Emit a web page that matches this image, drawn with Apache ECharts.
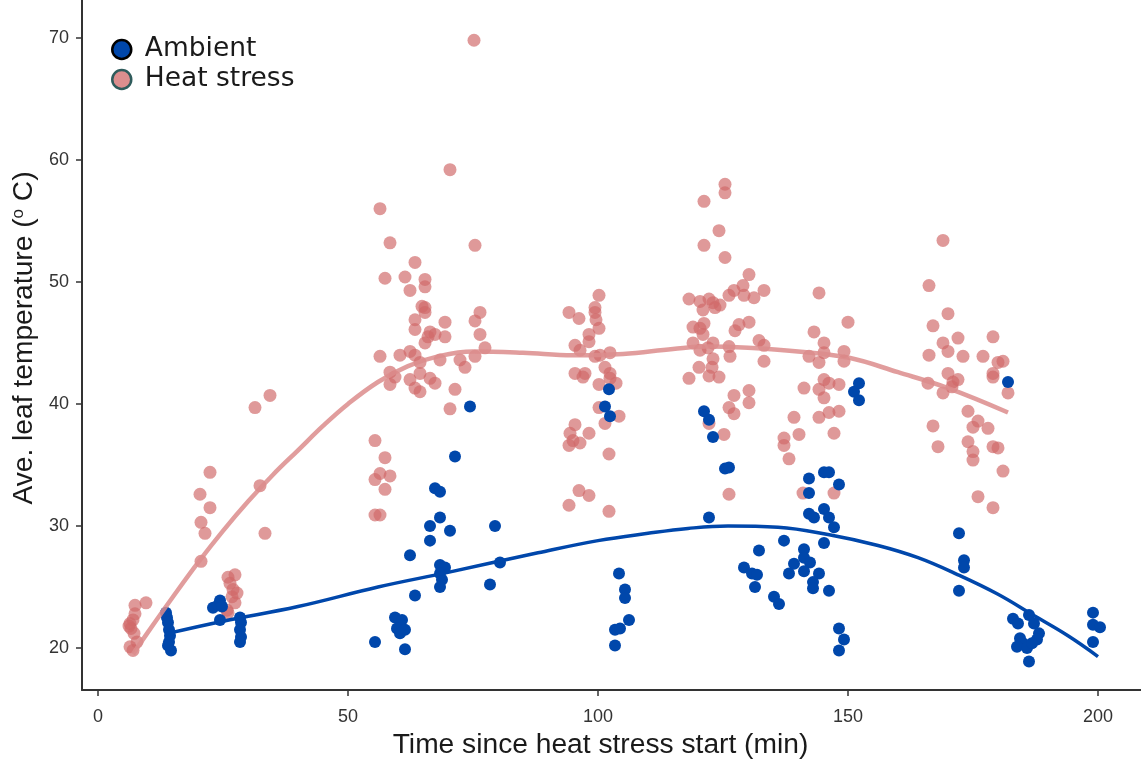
<!DOCTYPE html>
<html>
<head>
<meta charset="utf-8">
<script src="https://cdn.jsdelivr.net/npm/echarts@6/dist/echarts.min.js"></script>
<style>html,body{margin:0;padding:0;background:#fff}#c{width:1141px;height:760px}</style>
</head>
<body>
<div id="c"></div>
<script>
const xTicks = [0, 50, 100, 150, 200];
const yTicks = [20, 30, 40, 50, 60, 70];

const heatPoints = [
[6.4,22.0],[6.6,21.6],[7.4,23.5],[9.6,23.7],[7.0,22.3],[7.2,21.2],[7.8,20.5],[6.4,20.1],[7.0,19.8],[6.2,21.8],[7.4,22.8],
[22.4,34.4],[20.4,32.6],[22.4,31.5],[20.6,30.3],[21.4,29.4],[20.6,27.1],[31.4,39.7],[34.4,40.7],[32.4,33.3],[33.4,29.4],
[26,25.8],[27.4,26.0],[26.4,25.3],[27,24.8],[27.8,24.5],[26.8,24.2],[27.4,23.7],[25.8,23.1],[26,22.9],
[55.4,37.0],[57.4,35.6],[56.4,34.3],[58.4,34.1],[55.4,33.8],[57.4,33.0],[55.4,30.9],[56.4,30.9],
[56.4,56.0],[58.4,53.2],[75.4,53.0],[63.4,51.6],[57.4,50.3],[61.4,50.4],[65.4,50.2],[65.4,49.6],[62.4,49.3],[64.8,48.0],[65.4,47.9],[65.4,47.5],[76.4,47.5],[75.4,46.8],[63.4,46.9],[69.4,46.7],[63.4,46.1],[66.4,45.9],[67.4,45.7],[66,45.5],[69.4,45.5],[65.4,45.0],[76.4,45.7],[77.4,44.6],[56.4,43.9],[60.4,44.0],[62.4,44.3],[63.4,44.0],[64.4,43.4],[68.4,43.6],[72.4,43.6],[75.4,43.9],[73.4,43.0],[58.4,42.6],[59.4,42.2],[58.4,41.6],[62.4,42.0],[64.4,42.5],[66.4,42.1],[67.4,41.7],[63.4,41.3],[64.4,41.0],[71.4,41.2],[70.4,39.6],[70.4,59.2],[75.2,69.8],
[100.2,48.9],[99.4,47.9],[94.2,47.5],[96.2,47.0],[99.4,47.5],[99.6,46.9],[100.2,46.2],[98.2,45.7],[98.2,45.1],[95.4,44.8],[96.4,44.4],[99.4,43.9],[100.4,44.0],[102.4,44.2],[101.4,43.0],[102.4,42.5],[95.4,42.5],[97.4,42.5],[97,42.2],[102.4,42.1],[100.2,41.6],[103.6,41.7],[100.2,39.7],[101.4,38.4],[104.2,39.0],[95.4,38.3],[94.4,37.6],[95,37.0],[96.4,36.8],[94.2,36.6],[98.2,37.6],[102.2,35.9],[96.2,32.9],[98.2,32.5],[94.2,31.7],[102.2,31.2],
[125.4,58.0],[125.4,57.3],[121.2,56.6],[124.2,54.2],[121.2,53.0],[125.4,52.0],[130.2,50.6],[129,49.7],[127.2,49.3],[133.2,49.3],[126.2,48.9],[129.2,48.9],[131.2,48.7],[118.2,48.6],[120.4,48.4],[122.2,48.6],[123,48.3],[124.4,48.1],[121,47.7],[123.4,47.9],[130.2,46.7],[128.2,46.5],[127.4,46.0],[119,46.3],[120.4,46.2],[121.2,46.6],[121,45.7],[132.2,45.2],[133.2,44.8],[119,45.0],[123,45.0],[120.4,44.4],[122,44.6],[126.2,44.7],[126.4,43.9],[133.2,43.5],[123,43.7],[122.8,43.0],[120.2,43.0],[122.2,42.3],[124.2,42.2],[118.2,42.1],[127.2,40.7],[130.2,41.1],[130.2,40.1],[126.2,39.7],[127.2,39.2],[122.2,38.4],[125.2,37.5],[126.2,32.6],
[144.2,49.1],[150,46.7],[143.2,45.9],[145.2,45.0],[145.2,44.2],[142.2,43.9],[144.2,43.4],[149.2,44.3],[149.2,43.5],[145.2,42.0],[146.2,41.7],[148.2,41.6],[141.2,41.3],[144.2,41.2],[145.2,40.5],[144.2,38.9],[146.2,39.3],[148.2,39.4],[139.2,38.9],[140.2,37.5],[147.2,37.6],[137.2,37.2],[137.2,36.6],[138.2,35.5],[141,32.7],[147.2,32.7],
[169.0,53.4],[166.2,49.7],[170,47.4],[167,46.4],[172,45.4],[179,45.5],[169,45.0],[170,44.3],[166.2,44.0],[173,43.9],[177,43.9],[180,43.4],[181,43.5],[179,42.5],[179,42.2],[170,42.5],[171,41.8],[172,42.0],[166,41.7],[170.8,41.4],[169,40.9],[182,40.9],[174,39.4],[176,38.6],[175,38.1],[178,38.0],[167,38.2],[168,36.5],[174,36.9],[175,36.1],[175,35.4],[179,36.5],[180,36.4],[181,34.5],[176,32.4],[179,31.5]
];

const ambientPoints = [
[13.6,22.9],[13.8,22.5],[14.0,22.1],[14.4,21.0],[14.2,20.5],[14.6,19.8],[14.0,20.2],[14.2,21.5],
[23,23.3],[24,23.5],[24.4,23.9],[24.8,23.4],[24.4,22.3],
[28.4,22.5],[28.6,22.1],[28.4,21.5],[28.6,20.9],[28.4,20.5],
[74.4,39.8],[71.4,35.7],[67.4,33.1],[68.4,32.8],[68.4,30.7],[66.4,30.0],[70.4,29.6],[66.4,28.8],[79.4,30.0],[62.4,27.6],[68.4,26.8],[69.4,26.6],[68.4,26.1],[68.8,25.6],[68.4,25.0],[80.4,27.0],[78.4,25.2],[63.4,24.3],[59.4,22.5],[60.8,22.3],[59.8,21.6],[61.4,21.5],[60.4,21.2],[55.4,20.5],[61.4,19.9],
[102.2,41.2],[101.4,39.8],[102.4,39.0],[104.2,26.1],[105.4,24.8],[105.4,24.1],[106.2,22.3],[103.4,21.5],[104.4,21.6],[103.4,20.2],
[121.2,39.4],[122.2,38.7],[123,37.3],[125.4,34.7],[126.2,34.8],[122.2,30.7],[132.2,28.0],[129.2,26.6],[130.8,26.1],[131.8,26.0],[131.4,25.0],[135.2,24.2],[136.2,23.6],
[137.2,28.8],[141.2,28.1],[141.2,27.4],[142.4,27.0],[141.2,26.3],[144.2,26.1],[143,25.4],[143,24.9],[146.2,24.7],[139.2,26.9],[138.2,26.1],[145.2,28.6],[145.2,34.4],[146.2,34.4],[148.2,33.4],[142.2,33.9],[142.2,32.7],[142.2,31.0],[143.2,30.7],[145.2,31.4],[146.2,30.7],[147.2,29.9],[148.2,21.6],[149.2,20.7],[148.2,19.8],[151.2,41.0],[152.2,41.7],[152.2,40.3],
[172.2,29.4],[173.2,27.2],[173.2,26.6],[172.2,24.7],[182,41.8],[183,22.4],[184,22.0],[186.2,22.7],[187.2,22.0],[188.2,21.2],[187.8,20.7],[184.4,20.8],[185,20.4],[183.8,20.1],[185.8,20.0],[186.8,20.4],[186.2,18.9],[199,22.9],[199,21.9],[200.4,21.7],[199,20.5]
];

const heatFitT = [7,10,15,20,25,30,35,40,45,50,56,62,68,75,85,95,105,115,122,130,140,150,160,170,182];
const heatFitY = [19.5,21.3,24.2,27.0,29.6,32.0,34.2,36.2,38.2,40.0,41.8,43.1,43.9,44.3,44.2,44.0,44.1,44.5,44.7,44.6,44.3,43.8,42.6,41.3,39.3];
const ambFitT = [14,25,40,56,70,88,100,110,118,126,136,146,156,164,172,180,187,194,200];
const ambFitY = [21.2,22.2,23.4,25.0,26.2,27.8,28.8,29.4,29.8,30.0,29.9,29.3,28.4,27.4,26.0,24.4,22.7,21.0,19.3];

const blue = '#0047AB';
const pink = 'rgba(208,104,104,0.68)';
const font = 'Liberation Sans, Arial, sans-serif';
const legendFont = 'DejaVu Sans, Verdana, sans-serif';

const chart = echarts.init(document.getElementById('c'), null, {renderer: 'canvas'});
chart.setOption({
  animation: false,
  backgroundColor: '#fff',
  grid: {left: 82, right: 0, top: 0, bottom: 70, containLabel: false, outerBoundsMode: 'none'},
  legend: {
    orient: 'vertical', left: 106, top: 31,
    itemWidth: 36, itemHeight: 19, itemGap: 3,
    textStyle: {fontSize: 26.5, color: '#1a1a1a', fontFamily: legendFont},
    data: [
      {name: 'Ambient', icon: 'circle', itemStyle: {color: blue, borderColor: '#000', borderWidth: 2.5, opacity: 1}},
      {name: 'Heat stress', icon: 'circle', itemStyle: {color: '#dc8e8e', borderColor: '#2f5c5c', borderWidth: 2.5, opacity: 1}}
    ]
  },
  xAxis: {
    type: 'value', min: -3.2, max: 208.6,
    name: 'Time since heat stress start (min)', nameLocation: 'middle', nameGap: 41,
    nameTextStyle: {fontSize: 28.2, color: '#1a1a1a', fontFamily: font, padding: [0, 22, 0, 0]},
    splitLine: {show: false},
    axisLine: {show: true, onZero: false, lineStyle: {color: '#333', width: 2}},
    axisTick: {show: true, length: 6, lineStyle: {color: '#333', width: 1.5}, customValues: xTicks},
    axisLabel: {fontSize: 18, color: '#333', margin: 18, fontFamily: font, customValues: xTicks}
  },
  yAxis: {
    type: 'value', min: 16.56, max: 73.1,
    name: 'Ave. leaf temperature ({sup|o} C)', nameLocation: 'middle', nameGap: 35,
    nameTextStyle: {fontSize: 28.2, color: '#1a1a1a', fontFamily: font, padding: [0, 0, 0, 14],
      rich: {sup: {fontSize: 17, verticalAlign: 'bottom', padding: [0, 0, 12, 0], color: '#1a1a1a', fontFamily: font}}},
    splitLine: {show: false},
    axisLine: {show: true, onZero: false, lineStyle: {color: '#333', width: 2}},
    axisTick: {show: true, length: 6, lineStyle: {color: '#333', width: 1.5}, customValues: yTicks},
    axisLabel: {fontSize: 18, color: '#333', margin: 13, fontFamily: font, customValues: yTicks}
  },
  series: [
    {name: 'Heat stress', type: 'scatter', data: heatPoints, symbolSize: 13,
     itemStyle: {color: pink, opacity: 1}, z: 2},
    {name: 'Ambient', type: 'scatter', data: ambientPoints, symbolSize: 12,
     itemStyle: {color: blue, opacity: 1}, z: 3},
    {name: 'heatFit', type: 'line', data: heatFitT.map((t, i) => [t, heatFitY[i]]),
     smooth: 0.4, showSymbol: false, symbol: 'none',
     lineStyle: {color: 'rgba(220,140,140,0.85)', width: 4.5}, z: 4},
    {name: 'ambFit', type: 'line', data: ambFitT.map((t, i) => [t, ambFitY[i]]),
     smooth: 0.4, showSymbol: false, symbol: 'none',
     lineStyle: {color: blue, width: 3.5}, z: 5}
  ]
});
</script>
</body>
</html>
